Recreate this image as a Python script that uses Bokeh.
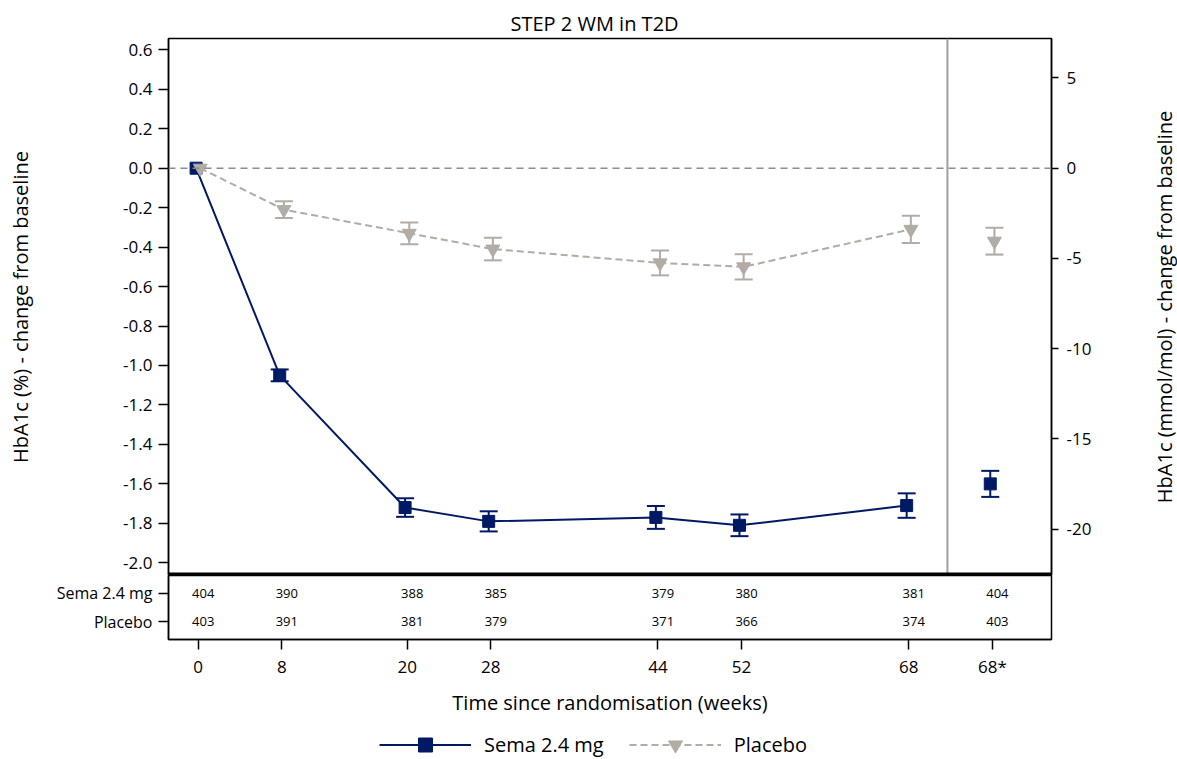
from bokeh.core.properties import value
from bokeh.embed import file_html
from bokeh.layouts import column, row
from bokeh.models import (ColumnDataSource, FixedTicker, Legend, LegendItem,
                          LinearAxis, Range1d, Span, TeeHead, Whisker)
from bokeh.plotting import figure
from bokeh.resources import INLINE
from bokeh.transform import dodge

# ---------------------------------------------------------------------------
# Data: HbA1c change from baseline (%), mean and standard error by visit.
# "68*" is the end-of-treatment estimate, shown apart from the time course.
# ---------------------------------------------------------------------------
x_tick_labels = ["0", "8", "20", "28", "44", "52", "68", "68*"]
x_positions = [0, 8, 20, 28, 44, 52, 68, 76]
n_course = 7  # visits joined by a line (0 .. 68 weeks)

sema_mean = [0.0, -1.05, -1.72, -1.79, -1.77, -1.81, -1.71, -1.60]
sema_se = [None, 0.030, 0.047, 0.051, 0.058, 0.055, 0.062, 0.066]
placebo_mean = [0.0, -0.21, -0.33, -0.41, -0.48, -0.50, -0.31, -0.37]
placebo_se = [None, 0.042, 0.055, 0.057, 0.063, 0.064, 0.069, 0.068]

# Number of subjects contributing at each visit
row_labels = ["Sema 2.4 mg", "Placebo"]
sema_n = [404, 390, 388, 385, 379, 380, 381, 404]
placebo_n = [403, 391, 381, 379, 371, 366, 374, 403]

pct_ticks = [0.6, 0.4, 0.2, 0.0, -0.2, -0.4, -0.6, -0.8, -1.0,
             -1.2, -1.4, -1.6, -1.8, -2.0]
pct_tick_labels = ["0.6", "0.4", "0.2", "0.0", "-0.2", "-0.4", "-0.6", "-0.8",
                   "-1.0", "-1.2", "-1.4", "-1.6", "-1.8", "-2.0"]
mmol_ticks = [5, 0, -5, -10, -15, -20]
mmol_tick_labels = ["5", "0", "-5", "-10", "-15", "-20"]
MMOL_PER_PCT = 10.93  # HbA1c % -> mmol/mol (IFCC)

# ---------------------------------------------------------------------------
FONT = "Open Sans"
NAVY = "#001965"
GREY = "#B2ACA6"
EOT_GAP = 71.7          # separator between time course and end-of-treatment
SHIFT = 0.2             # small horizontal dodge between the two arms
W_MAIN = 1140           # width of the stacked panels
M_LEFT, M_RIGHT = 168, 89

x_range = Range1d(-2.842, 81.66)


def style_axis(ax, size="17px"):
    ax.axis_line_color = "black"
    ax.axis_line_width = 1.5
    ax.major_tick_line_color = "black"
    ax.major_tick_line_width = 1.5
    ax.major_tick_in = 0
    ax.minor_tick_line_color = None
    ax.major_label_text_font = FONT
    ax.major_label_text_font_size = size
    ax.major_label_text_color = "black"
    ax.axis_label_text_font = FONT
    ax.axis_label_text_font_size = "20px"
    ax.axis_label_text_font_style = "normal"
    ax.axis_label_text_color = "black"


# ---------------------------- main panel -----------------------------------
p1 = figure(width=W_MAIN, height=575, x_range=x_range,
            y_range=Range1d(-2.0644, 0.6574),
            x_axis_location=None, tools="", toolbar_location=None,
            output_backend="svg", title="STEP 2 WM in T2D",
            min_border_left=M_LEFT, min_border_right=M_RIGHT,
            min_border_top=38, min_border_bottom=0)
p1.title.text_font = FONT
p1.title.text_font_size = "20px"
p1.title.text_font_style = "normal"
p1.title.text_color = "black"
p1.title.align = "left"
p1.title.offset = 342
p1.title.standoff = 4
p1.outline_line_color = "black"
p1.outline_line_width = 1.5
p1.grid.visible = False

yl = p1.yaxis[0]
yl.ticker = FixedTicker(ticks=pct_ticks)
yl.major_label_overrides = dict(zip(pct_ticks, pct_tick_labels))
yl.axis_label = "HbA1c (%) - change from baseline"
yl.major_tick_out = 10
yl.major_label_standoff = 6
yl.axis_label_standoff = 86
style_axis(yl)

p1.extra_y_ranges = {"mmol": Range1d(p1.y_range.start * MMOL_PER_PCT,
                                     p1.y_range.end * MMOL_PER_PCT)}
yr = LinearAxis(y_range_name="mmol", ticker=FixedTicker(ticks=mmol_ticks),
                major_label_overrides=dict(zip(mmol_ticks, mmol_tick_labels)))
yr.major_tick_out = 7
yr.major_label_standoff = 8
style_axis(yr)
p1.add_layout(yr, "right")

p1.add_layout(Span(location=0, dimension="width", line_color="#8C8C8C",
                   line_width=1.5, line_dash="7 5"))
p1.add_layout(Span(location=EOT_GAP, dimension="height", line_color="#A0A0A0",
                   line_width=2))
# heavy rule between the chart and the numbers-at-risk table
p1.add_layout(Span(location=-2.0568, dimension="width", line_color="black",
                   line_width=3))


def arm(p, mean, se, color, marker, size, dash, shift):
    course = ColumnDataSource(dict(x=x_positions[:n_course], y=mean[:n_course]))
    p.line(x=dodge("x", shift, range=x_range), y="y", source=course,
           line_color=color, line_width=2, line_dash=dash)
    pts = ColumnDataSource(dict(x=x_positions, y=mean))
    p.scatter(x=dodge("x", shift, range=x_range), y="y", source=pts,
              marker=marker, size=size, fill_color=color, line_color=color)
    keep = [i for i, s in enumerate(se) if s is not None]
    bars = ColumnDataSource(dict(
        x=[x_positions[i] for i in keep],
        lower=[mean[i] - se[i] for i in keep],
        upper=[mean[i] + se[i] for i in keep]))
    p.add_layout(Whisker(
        base=dodge("x", shift, range=x_range), lower="lower", upper="upper",
        source=bars, line_color=color, line_width=2,
        lower_head=TeeHead(size=18, line_color=color, line_width=2),
        upper_head=TeeHead(size=18, line_color=color, line_width=2)))
    return course, pts


sema_src = arm(p1, sema_mean, sema_se, NAVY, "square", 12, "solid", -SHIFT)
plac_src = arm(p1, placebo_mean, placebo_se, GREY, "inverted_triangle", 14,
               "7 4", SHIFT)

# ----------------------- numbers-at-risk panel -----------------------------
p2 = figure(width=W_MAIN, height=145, x_range=x_range,
            y_range=Range1d(1.635, -0.625), tools="", toolbar_location=None,
            output_backend="svg",
            min_border_left=M_LEFT, min_border_right=M_RIGHT,
            min_border_top=0, min_border_bottom=81)
p2.outline_line_color = "black"
p2.outline_line_width = 1.5
p2.grid.visible = False

xa = p2.xaxis[0]
xa.ticker = FixedTicker(ticks=x_positions)
xa.major_label_overrides = dict(zip(x_positions, x_tick_labels))
xa.axis_label = "Time since randomisation (weeks)"
xa.major_tick_out = 10
xa.major_label_standoff = 5
xa.axis_label_standoff = 8
style_axis(xa)

ya = p2.yaxis[0]
ya.ticker = FixedTicker(ticks=list(range(len(row_labels))))
ya.major_label_overrides = dict(enumerate(row_labels))
ya.major_tick_out = 10
ya.major_label_standoff = 6
style_axis(ya, size="16px")

for r, counts in enumerate([sema_n, placebo_n]):
    src = ColumnDataSource(dict(x=x_positions, y=[r] * len(counts),
                                t=[str(c) for c in counts]))
    p2.text(x="x", y="y", text="t", source=src, x_offset=5,
            text_align="center", text_baseline="middle",
            text_font=value(FONT), text_font_size="13px", text_color="black")

# ------------------------------ legend strip --------------------------------
# The key renderers share the series' sources; this strip's y range lies
# above every value, so only the legend itself shows here.
p3 = figure(width=W_MAIN, height=39, x_range=x_range,
            y_range=Range1d(5, 6), x_axis_location=None, y_axis_location=None,
            tools="", toolbar_location=None, output_backend="svg",
            min_border_left=M_LEFT, min_border_right=M_RIGHT,
            min_border_top=0, min_border_bottom=0)
p3.outline_line_color = None
p3.grid.visible = False

k1 = p3.line(x="x", y="y", source=sema_src[0], line_color=NAVY, line_width=2)
k2 = p3.scatter(x="x", y="y", source=sema_src[1], marker="square", size=12,
                color=NAVY)
k3 = p3.line(x="x", y="y", source=plac_src[0], line_color=GREY, line_width=2,
             line_dash="7 4")
k4 = p3.scatter(x="x", y="y", source=plac_src[1], marker="inverted_triangle",
                size=14, color=GREY)
legend = Legend(items=[LegendItem(label="Sema 2.4 mg", renderers=[k1, k2]),
                       LegendItem(label="Placebo", renderers=[k3, k4])],
                location=(379 - M_LEFT, -3), orientation="horizontal",
                glyph_width=92, glyph_height=35, label_standoff=13,
                spacing=25, padding=0, margin=0,
                border_line_color=None, background_fill_alpha=0,
                label_text_font=FONT, label_text_font_size="20px",
                label_text_color="black")
p3.add_layout(legend)

# -------------------- right-hand axis title (mmol/mol) ----------------------
p4 = figure(width=1177 - W_MAIN, height=575, x_range=Range1d(0, 1),
            y_range=Range1d(0, 1), x_axis_location=None,
            tools="", toolbar_location=None, output_backend="svg",
            min_border_left=1177 - W_MAIN - 1, min_border_right=0,
            min_border_top=38, min_border_bottom=0)
p4.outline_line_color = None
p4.grid.visible = False
ta = p4.yaxis[0]
ta.ticker = FixedTicker(ticks=[])
ta.axis_line_color = None
ta.major_tick_line_color = None
ta.minor_tick_line_color = None
ta.major_label_text_font_size = "0px"
ta.major_tick_out = 0
ta.major_label_standoff = 0
ta.axis_label = "HbA1c (mmol/mol) - change from baseline"
ta.axis_label_standoff = -1
ta.axis_label_text_font = FONT
ta.axis_label_text_font_size = "20px"
ta.axis_label_text_font_style = "normal"
ta.axis_label_text_color = "black"

layout = row(column(p1, p2, p3, spacing=0), p4, spacing=0)
open("out.html", "w").write(file_html(layout, INLINE))
